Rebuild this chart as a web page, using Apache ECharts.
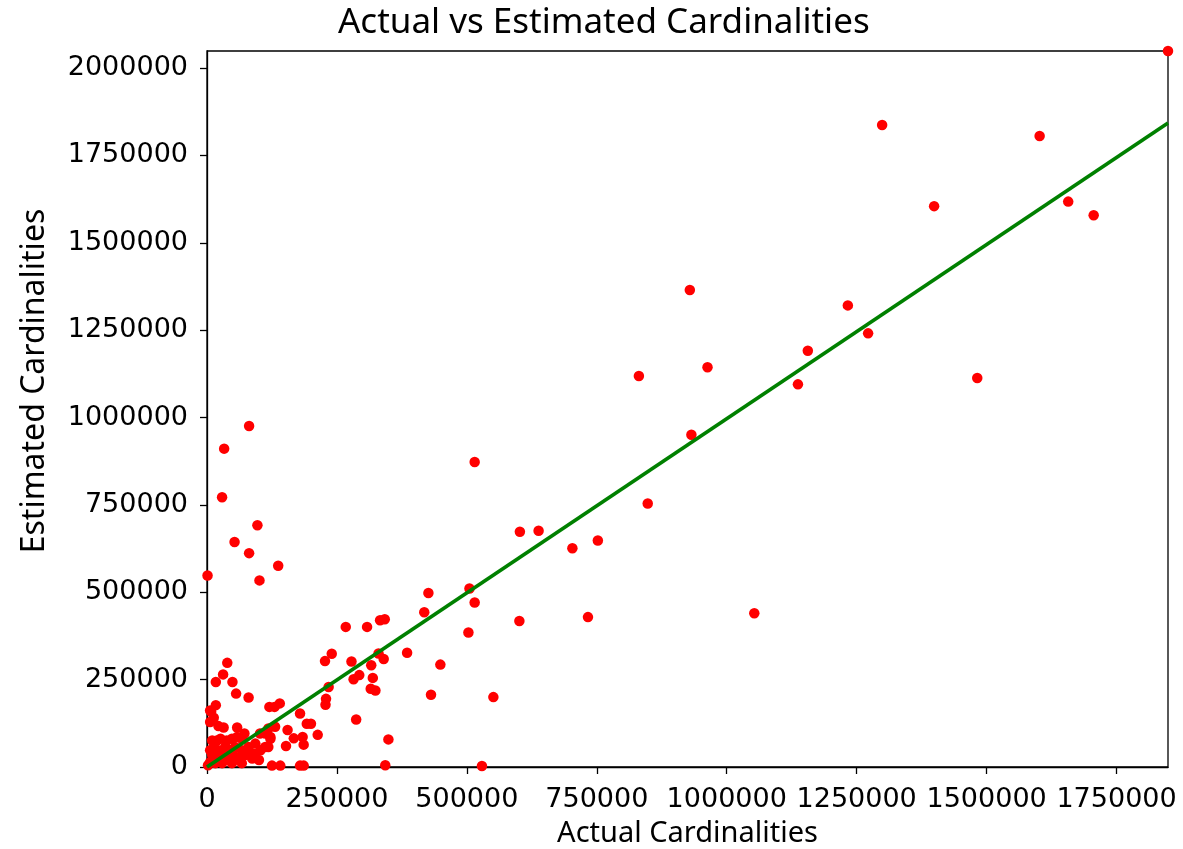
<!DOCTYPE html>
<html>
<head>
<meta charset="utf-8">
<script src="https://cdn.jsdelivr.net/npm/echarts@6/dist/echarts.min.js"></script>
<style>html,body{margin:0;padding:0;background:#fff}#c{width:1183px;height:849px}</style>
</head>
<body>
<div id="c"></div>
<script>
// ---- data ----
const titleText = "Actual vs Estimated Cardinalities";
const xLabel = "Actual Cardinalities";
const yLabel = "Estimated Cardinalities";
const xTicks = [0, 250000, 500000, 750000, 1000000, 1250000, 1500000, 1750000];
const yTicks = [0, 250000, 500000, 750000, 1000000, 1250000, 1500000, 1750000, 2000000];
const xMax = 1849000;
const yMax = 2049000;
const actual = [
  1849000, 1299000, 1602000, 1399000, 1657000, 1706000, 1233000, 1272000, 1156000, 1137000,
  1482000, 963000, 929000, 831000, 932000, 848000, 515000, 602000, 638000, 703000,
  752000, 505000, 426000, 515000, 418000, 601000, 733000, 1053000, 503000, 385000,
  449000, 431000, 551000, 529000,
  101000, 267000, 308000, 333000, 342000, 227000, 240000, 278000, 330000, 340000,
  316000, 282000, 293000, 319000, 315000, 324000, 234000, 229000, 228000, 287000,
  349000, 343000, 179000, 192000, 200000, 213000, 155000, 167000, 184000, 186000,
  152000, 120000, 130000, 140000, 118000, 131000, 102000, 112000, 122000, 118000,
  80000, 179000, 186000, 125000, 141000,
  81000, 33000, 29000, 97000, 53000, 81000, 1000, 137000,
  39000, 31000, 17000, 49000, 56000, 17000, 8000, 13000, 22000, 32000,
  6000, 58000, 72000, 19000, 26000, 38000, 48000, 58000, 67000, 13000,
  22000, 35000, 45000, 54000, 67000, 80000, 10000, 19000, 32000, 42000,
  51000, 61000, 74000, 87000, 6000, 16000, 29000, 48000, 67000, 90000,
  103000, 112000, 6000, 93000, 122000, 6000, 10000, 2000, 100000
];
const estimated = [
  2049000, 1837000, 1806000, 1605000, 1618000, 1579000, 1321000, 1241000, 1191000, 1095000,
  1113000, 1144000, 1365000, 1119000, 951000, 754000, 873000, 673000, 676000, 626000,
  648000, 511000, 498000, 471000, 443000, 418000, 429000, 440000, 385000, 327000,
  293000, 207000, 200000, 3000,
  534000, 401000, 401000, 420000, 423000, 303000, 324000, 302000, 325000, 309000,
  291000, 251000, 263000, 255000, 224000, 219000, 229000, 195000, 178000, 136000,
  79000, 5000, 153000, 124000, 124000, 92000, 106000, 82000, 86000, 64000,
  60000, 172000, 172000, 182000, 110000, 115000, 96000, 96000, 86000, 57000,
  199000, 4000, 4000, 4000, 4000,
  976000, 911000, 772000, 692000, 644000, 612000, 548000, 576000,
  298000, 265000, 243000, 243000, 210000, 177000, 158000, 141000, 117000, 113000,
  129000, 113000, 96000, 76000, 81000, 76000, 81000, 86000, 81000, 57000,
  48000, 57000, 48000, 57000, 48000, 57000, 34000, 24000, 29000, 24000,
  34000, 24000, 34000, 24000, 14000, 11000, 11000, 11000, 11000, 38000,
  48000, 57000, 48000, 67000, 81000, 162000, 76000, 5000, 20000
];
const fitLine = [[0, 0], [xMax, 1843000]];

// ---- chart ----
const points = actual.map((a, i) => [a, estimated[i]]);
const chart = echarts.init(document.getElementById('c'), null, {renderer: 'canvas'});
const fmt = v => String(Math.round(v));
chart.setOption({
  animation: false,
  backgroundColor: '#fff',
  title: {
    text: titleText, left: 333, top: 1,
    textStyle: {fontFamily: 'Noto Sans', fontWeight: 'normal', fontSize: 35, color: '#000'}
  },
  grid: {left: 207, top: 51, right: 15, bottom: 82, show: true, borderColor: '#000', borderWidth: 1.3,
         backgroundColor: 'transparent', containLabel: false, outerBoundsMode: 'none'},
  xAxis: {
    type: 'value', min: 0, max: xMax,
    name: xLabel, nameLocation: 'middle', nameGap: 52,
    nameTextStyle: {fontFamily: 'Noto Sans', fontSize: 29, color: '#000'},
    axisLine: {show: true, onZero: false, lineStyle: {color: '#000', width: 1.3}},
    axisTick: {show: true, inside: false, length: 7, lineStyle: {color: '#000', width: 1.3}, customValues: xTicks},
    axisLabel: {color: '#000', fontFamily: 'DejaVu Sans', fontSize: 27, margin: 19, formatter: fmt, customValues: xTicks},
    splitLine: {show: false}
  },
  yAxis: {
    type: 'value', min: 0, max: yMax,
    name: yLabel, nameLocation: 'middle', nameGap: 156, nameRotate: 90,
    nameTextStyle: {fontFamily: 'Noto Sans', fontSize: 32, color: '#000', padding: [0, 0, 0, 56]},
    axisLine: {show: true, onZero: false, lineStyle: {color: '#000', width: 1.3}},
    axisTick: {show: true, inside: false, length: 7, lineStyle: {color: '#000', width: 1.3}, customValues: yTicks},
    axisLabel: {color: '#000', fontFamily: 'DejaVu Sans', fontSize: 27, margin: 19, formatter: fmt, customValues: yTicks},
    splitLine: {show: false}
  },
  series: [
    {
      type: 'scatter', data: points, symbol: 'circle', symbolSize: 10.5,
      itemStyle: {color: '#ff0000', opacity: 1}, z: 2, silent: true
    },
    {
      type: 'line', data: fitLine, showSymbol: false, symbol: 'none',
      lineStyle: {color: '#008000', width: 3.7}, z: 3, silent: true
    }
  ]
});
</script>
</body>
</html>
